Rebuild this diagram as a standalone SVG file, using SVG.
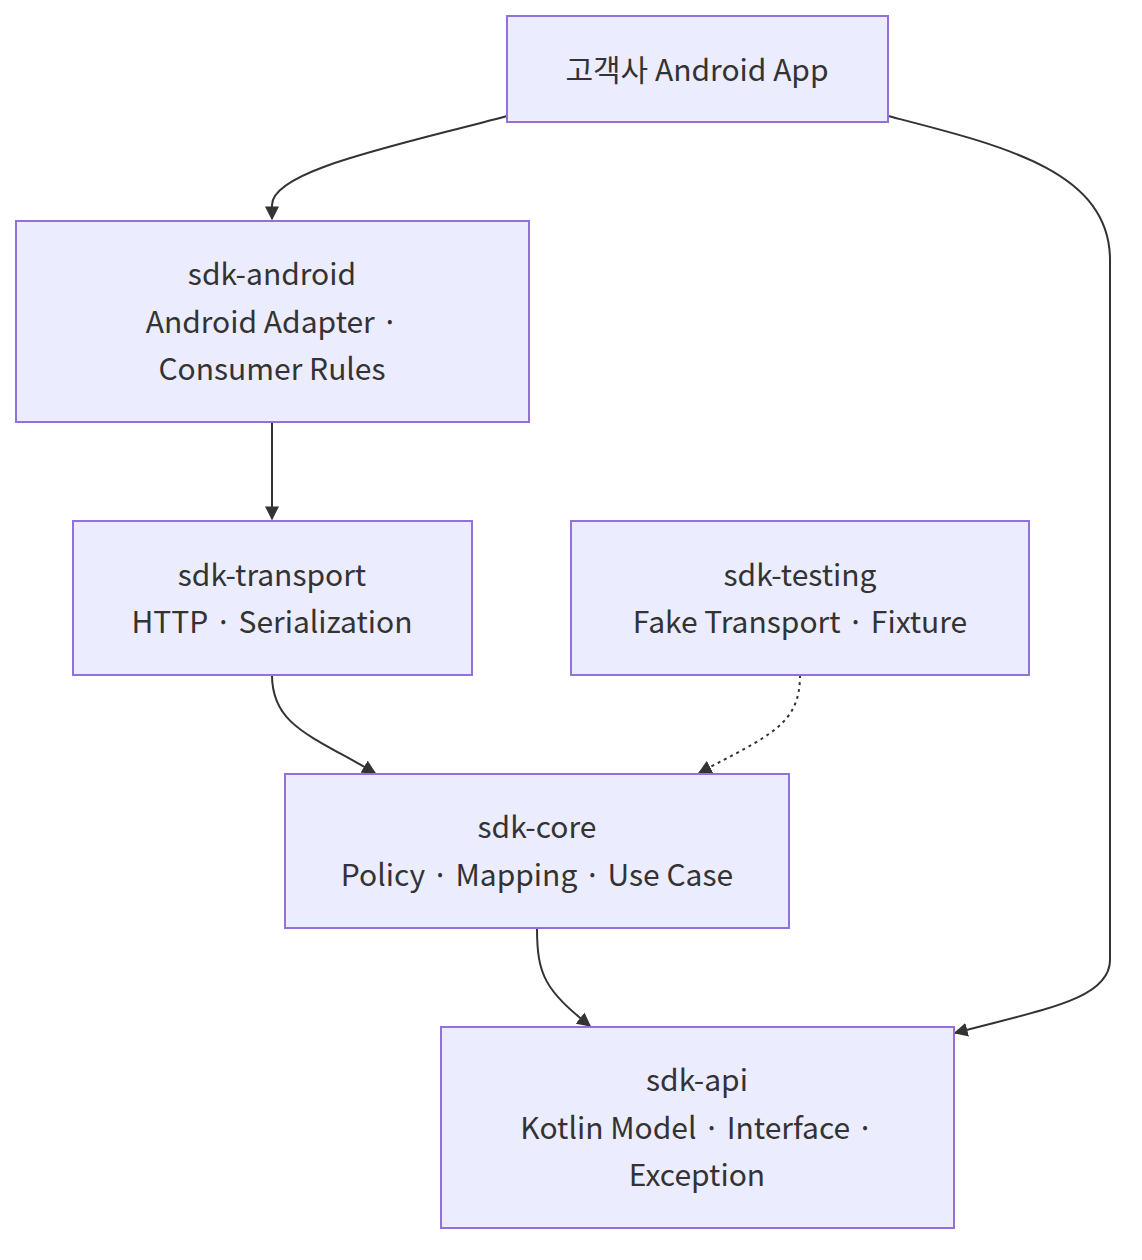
<svg xmlns="http://www.w3.org/2000/svg" width="1142" height="1260" viewBox="0 0 1142 1260">
<style>
.node rect{fill:#ECECFF;stroke:#9370DB;stroke-width:2}
.node text{font-family:"Noto Sans CJK KR","Noto Sans",sans-serif;font-size:30px;fill:#333;text-anchor:middle;dominant-baseline:central}
.edge{fill:none;stroke:#333;stroke-width:2}
.dash{stroke-dasharray:3 4}
</style>
<defs>
<marker id="arr" viewBox="0 0 10 10" refX="9" refY="5" markerWidth="14" markerHeight="14" markerUnits="userSpaceOnUse" orient="auto">
<path d="M0,0 L10,5 L0,10 z" fill="#333"/>
</marker>
</defs>
<rect width="1142" height="1260" fill="#fff"/>
<g id="edges">
<path class="edge" d="M507,116 C400,145 272,170 272,205 L272,219" marker-end="url(#arr)"/>
<path class="edge" d="M888,116 C1000,145 1110,170 1110,260 L1110,960 C1110,1000 1040,1010 955,1033" marker-end="url(#arr)"/>
<path class="edge" d="M272,422 L272,519" marker-end="url(#arr)"/>
<path class="edge" d="M272,675 C272,725 310,735 375,773" marker-end="url(#arr)"/>
<path class="edge dash" d="M800,675 C800,725 770,735 699,773" marker-end="url(#arr)"/>
<path class="edge" d="M537,928 C537,975 545,990 590,1026" marker-end="url(#arr)"/>
</g>
<g id="app" class="node"><rect x="507" y="16" width="381" height="106"/><text x="697" y="68">고객사 Android App</text></g>
<g id="android" class="node"><rect x="16" y="221" width="513" height="201"/><text x="272" y="272">sdk-android</text><text x="272" y="320">Android Adapter ·</text><text x="272" y="367">Consumer Rules</text></g>
<g id="transport" class="node"><rect x="73" y="521" width="399" height="154"/><text x="272" y="573">sdk-transport</text><text x="272" y="620">HTTP · Serialization</text></g>
<g id="testing" class="node"><rect x="571" y="521" width="458" height="154"/><text x="800" y="573">sdk-testing</text><text x="800" y="620">Fake Transport · Fixture</text></g>
<g id="core" class="node"><rect x="285" y="774" width="504" height="154"/><text x="537" y="825">sdk-core</text><text x="537" y="873">Policy · Mapping · Use Case</text></g>
<g id="api" class="node"><rect x="441" y="1027" width="513" height="201"/><text x="697" y="1078">sdk-api</text><text x="697" y="1126">Kotlin Model · Interface ·</text><text x="697" y="1173">Exception</text></g>
</svg>
